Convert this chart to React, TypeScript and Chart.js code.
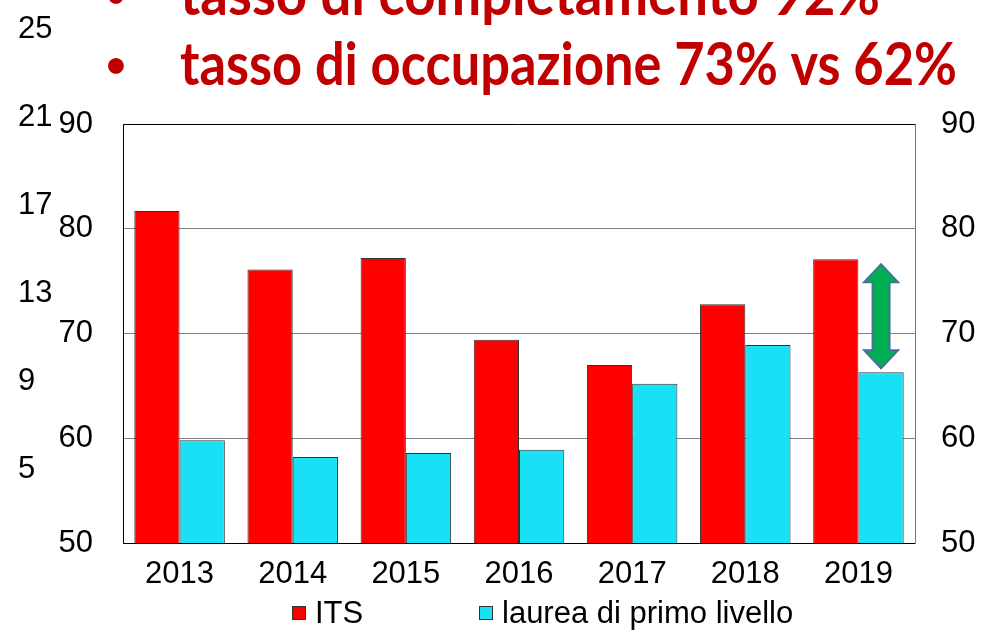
import React, { useEffect, useRef } from "react";
import { Chart, registerables } from "chart.js";
Chart.register(...registerables);

const years = ["2013", "2014", "2015", "2016", "2017", "2018", "2019"];
const itsValues = [81.7, 76.1, 77.2, 69.4, 67.0, 72.8, 77.1];
const laureaValues = [59.8, 58.2, 58.6, 58.9, 65.2, 68.9, 66.3];
const seriesLabels = ["ITS", "laurea di primo livello"];
const seriesColors = ["#FF0000", "#19E0F4"];
const titleLines = ["tasso di completamento 92%", "tasso di occupazione 73% vs 62%"];
const ghostTicks = [25, 21, 17, 13, 9, 5];

const TICK_FONT = "31px 'Liberation Sans', Arial, sans-serif";

const overlayPlugin = {
  id: "overlay",
  beforeDatasetsDraw(chart: any) {
    const { ctx, chartArea: a } = chart;
    ctx.save();
    ctx.lineWidth = 1;
    ctx.strokeStyle = "#000";
    ctx.beginPath();
    ctx.moveTo(a.right + 0.5, a.top + 0.5);
    ctx.lineTo(a.left + 0.5, a.top + 0.5);
    ctx.lineTo(a.left + 0.5, a.bottom + 0.5);
    ctx.lineTo(a.right + 0.5, a.bottom + 0.5);
    ctx.stroke();
    ctx.strokeStyle = "#777";
    ctx.beginPath();
    ctx.moveTo(a.right + 0.5, a.top + 0.5);
    ctx.lineTo(a.right + 0.5, a.bottom + 0.5);
    ctx.stroke();
    ctx.restore();
  },
  afterDraw(chart: any) {
    const { ctx, chartArea: a, scales } = chart;
    ctx.save();
    // title lines
    ctx.fillStyle = "#C00000";
    ctx.font = "bold 59px Lato, 'Open Sans', sans-serif";
    ctx.textBaseline = "alphabetic";
    ctx.textAlign = "left";
    ctx.fillText(titleLines[0], 180, a.top - 109, 700);
    ctx.fillText(titleLines[1], 180, a.top - 39, 777);
    ctx.textAlign = "center";
    ctx.font = "bold 36px Lato, 'Open Sans', sans-serif";
    ctx.fillText("\u2022", 116, a.top - 117);
    ctx.fillText("\u2022", 116, a.top - 47);

    // ghost left ticks
    ctx.fillStyle = "#000";
    ctx.font = TICK_FONT;
    ctx.textAlign = "left";
    ctx.textBaseline = "middle";
    const y25 = a.top - 95;
    const step = 88;
    ghostTicks.forEach((v) => {
      const y = y25 + ((ghostTicks[0] - v) / 4) * step;
      ctx.fillText(String(v), 18, y);
    });

    // legend
    const legendY = a.bottom + 70;
    const legendX = [292, 479];
    seriesLabels.forEach((lab, i) => {
      const x = legendX[i];
      ctx.fillStyle = seriesColors[i];
      ctx.fillRect(x, legendY - 7, 14, 14);
      ctx.strokeStyle = "#333";
      ctx.lineWidth = 1;
      ctx.strokeRect(x + 0.5, legendY - 6.5, 13, 13);
      ctx.fillStyle = "#000";
      ctx.font = TICK_FONT;
      ctx.textAlign = "left";
      ctx.textBaseline = "middle";
      ctx.fillText(lab, x + 23, legendY + 1);
    });

    // green double arrow over 2019 laurea bar
    const meta = chart.getDatasetMeta(1);
    const bar = meta.data[meta.data.length - 1];
    const cx = bar.x;
    const y = scales.y;
    const yTop = y.getPixelForValue(itsValues[itsValues.length - 1]) + 5;
    const yBot = y.getPixelForValue(laureaValues[laureaValues.length - 1]) - 4;
    const hw = 17, sw = 8.5, hh = 18;
    ctx.beginPath();
    ctx.moveTo(cx, yTop);
    ctx.lineTo(cx + hw, yTop + hh);
    ctx.lineTo(cx + sw, yTop + hh);
    ctx.lineTo(cx + sw, yBot - hh);
    ctx.lineTo(cx + hw, yBot - hh);
    ctx.lineTo(cx, yBot);
    ctx.lineTo(cx - hw, yBot - hh);
    ctx.lineTo(cx - sw, yBot - hh);
    ctx.lineTo(cx - sw, yTop + hh);
    ctx.lineTo(cx - hw, yTop + hh);
    ctx.closePath();
    ctx.fillStyle = "#00B050";
    ctx.fill();
    ctx.strokeStyle = "#41719C";
    ctx.lineWidth = 2;
    ctx.stroke();
    ctx.restore();
  },
};

export default function App() {
  const ref = useRef<HTMLCanvasElement>(null);
  useEffect(() => {
    if (!ref.current) return;
    const tickFont = { family: "'Liberation Sans', Arial, sans-serif", size: 31 };
    const chart = new Chart(ref.current, {
      type: "bar",
      data: {
        labels: years,
        datasets: [
          {
            label: seriesLabels[0],
            data: itsValues,
            backgroundColor: seriesColors[0],
            borderColor: "#333",
            borderWidth: 1,
            categoryPercentage: 0.8,
            barPercentage: 1,
          },
          {
            label: seriesLabels[1],
            data: laureaValues,
            backgroundColor: seriesColors[1],
            borderColor: "#333",
            borderWidth: 1,
            categoryPercentage: 0.8,
            barPercentage: 1,
          },
        ],
      },
      options: {
        responsive: false,
        animation: false,
        layout: { padding: { top: 124, left: 0, right: 0, bottom: 0 } },
        plugins: { legend: { display: false }, tooltip: { enabled: false }, title: { display: false } },
        scales: {
          x: {
            grid: { display: false, drawTicks: false },
            border: { display: false },
            ticks: { color: "#000", font: tickFont, padding: 13, maxRotation: 0 },
            afterFit: (s: any) => { s.height = 87; },
          },
          y: {
            position: "left",
            min: 50,
            max: 90,
            ticks: { stepSize: 10, color: "#000", font: tickFont, padding: 30 },
            grid: { color: "#808080", drawTicks: false },
            border: { display: false },
            afterFit: (s: any) => { s.width = 123; },
          },
          y2: {
            position: "right",
            min: 50,
            max: 90,
            ticks: { stepSize: 10, color: "#000", font: tickFont, padding: 26 },
            grid: { display: false, drawTicks: false },
            border: { display: false },
            afterFit: (s: any) => { s.width = 68; },
          },
        },
      },
      plugins: [overlayPlugin],
    });
    return () => chart.destroy();
  }, []);
  return (
    <div style={{ position: "fixed", left: 0, top: 0, width: 983, height: 630, background: "#fff" }}>
      <canvas ref={ref} width={983} height={630} style={{ width: 983, height: 630, display: "block" }} />
    </div>
  );
}
